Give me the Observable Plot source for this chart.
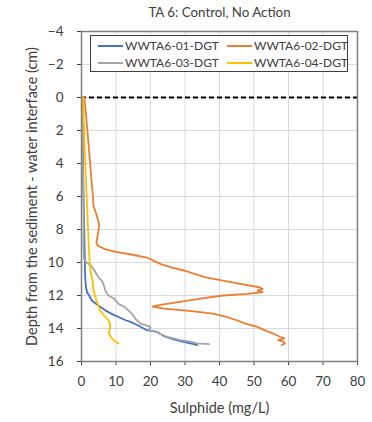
<!DOCTYPE html>
<html>
<head>
<meta charset="utf-8">
<script src="https://cdn.jsdelivr.net/npm/d3@7"></script>
<script src="https://cdn.jsdelivr.net/npm/@observablehq/plot@0.6"></script>
<style>
  html, body { margin: 0; padding: 0; background: #fff; }
  #chart { position: relative; width: 372px; height: 422px; font-family: Lato, "Open Sans", sans-serif; }
  #legend {
    position: absolute; left: 90px; top: 35px; width: 258px; height: 37px;
    border: 1px solid #404040; background: #fff; box-sizing: border-box;
    font-size: 12px; color: #404040;
    display: grid; grid-template-columns: 129px auto; grid-template-rows: 17px 17px;
    align-items: center; padding-top: 1px;
  }
  #legend .item { display: flex; align-items: center; white-space: nowrap; }
  #legend svg { margin-left: 7px; margin-right: 2px; }
</style>
</head>
<body>
<div id="chart"></div>
<script>
// Sulphide DGT profiles, TA 6 (control, no action)
const title = "TA 6: Control, No Action";
const xLabel = "Sulphide (mg/L)";
const yLabel = "Depth from the sediment - water interface (cm)";
const xTicks = [0, 10, 20, 30, 40, 50, 60, 70, 80];
const yTicks = [-4, -2, 0, 2, 4, 6, 8, 10, 12, 14, 16];

const seriesNames = ["WWTA6-01-DGT", "WWTA6-02-DGT", "WWTA6-03-DGT", "WWTA6-04-DGT"];
const seriesColors = ["#4472C4", "#ED7D31", "#A5A5A5", "#FFC000"];

// depth (cm) / sulphide (mg/L)
const depth01 = [0, 1, 2, 3, 4, 5, 6, 7, 8, 9, 10, 10.5, 11, 11.5, 11.8, 12.0, 12.3, 12.5, 12.7, 12.9, 13.1, 13.3, 13.5, 13.6, 13.8, 14.0, 14.1, 14.2, 14.3, 14.5, 14.7, 14.85, 14.95, 15.0];
const sulph01 = [0.4, 0.4, 0.5, 0.5, 0.5, 0.5, 0.6, 0.7, 0.8, 0.9, 1.0, 1.0, 1.1, 1.3, 1.6, 2.2, 3.0, 4.2, 5.5, 6.9, 8.6, 10.7, 12.8, 14.2, 16.3, 18.0, 19.0, 21.9, 22.6, 24.3, 27.5, 30.5, 32.5, 33.5];

const depth02 = [0, 1, 2, 3, 4, 5, 6, 6.6, 7.0, 7.5, 7.8, 8.2, 8.5, 8.8, 9.0, 9.2, 9.35, 9.5, 9.7, 9.9, 10.1, 10.3, 10.5, 10.7, 10.9, 11.1, 11.3, 11.5, 11.6, 11.7, 11.8, 11.9, 12.0, 12.2, 12.4, 12.6, 12.67, 12.8, 12.95, 13.1, 13.3, 13.5, 13.7, 13.9, 14.1, 14.3, 14.5, 14.6, 14.7, 14.8, 14.9, 15.0];
const sulph02 = [0.8, 1.3, 1.7, 2.1, 2.5, 2.9, 3.3, 3.5, 4.2, 4.9, 5.1, 4.8, 4.6, 4.3, 4.8, 7.0, 10.0, 14.0, 19.0, 21.0, 23.0, 26.0, 30.0, 33.0, 36.0, 41.0, 46.0, 51.5, 52.5, 51.0, 52.5, 48.0, 41.0, 34.0, 28.0, 22.0, 20.6, 24.0, 32.0, 38.0, 42.0, 45.0, 47.5, 51.0, 53.0, 55.5, 57.5, 58.8, 57.0, 58.5, 59.0, 58.0];

const depth03 = [0, 1, 2, 3, 4, 5, 6, 7, 8, 9, 9.8, 10.0, 10.2, 10.5, 10.9, 11.1, 11.4, 11.7, 12.0, 12.2, 12.5, 12.7, 12.9, 13.1, 13.4, 13.7, 13.9, 14.1, 14.2, 14.35, 14.5, 14.7, 14.8, 14.9, 14.95];
const sulph03 = [0.3, 0.3, 0.4, 0.4, 0.4, 0.5, 0.5, 0.6, 0.6, 0.6, 0.7, 1.5, 2.8, 3.8, 4.9, 5.9, 6.5, 6.9, 7.8, 9.5, 10.7, 12.5, 13.6, 14.6, 15.6, 17.1, 20.0, 19.6, 21.9, 23.0, 24.8, 28.7, 31.6, 33.5, 37.0];

const depth04 = [0, 1, 2, 3, 4, 5, 6, 7, 8, 9, 10, 10.5, 11.1, 11.7, 12.3, 12.9, 13.2, 13.5, 13.7, 14.0, 14.3, 14.6, 14.8, 14.9];
const sulph04 = [0.5, 0.6, 0.8, 0.9, 1.1, 1.3, 1.5, 1.7, 1.9, 2.1, 2.4, 2.6, 3.2, 3.5, 4.3, 5.4, 6.5, 7.8, 8.3, 8.3, 7.9, 8.8, 9.8, 10.7];

const depths = [depth01, depth02, depth03, depth04];
const sulphs = [sulph01, sulph02, sulph03, sulph04];

const rows = seriesNames.flatMap((name, i) =>
  depths[i].map((d, j) => ({series: name, depth: d, sulphide: sulphs[i][j]}))
);

const font = "Lato, 'Open Sans', sans-serif";

const plot = Plot.plot({
  width: 372,
  height: 422,
  marginLeft: 81,
  marginRight: 15,
  marginTop: 31,
  marginBottom: 61,
  style: {fontFamily: font, fontSize: "13.5px", color: "#404040", background: "#fff"},
  x: {domain: [0, 80]},
  y: {domain: [-4, 16], reverse: true},
  color: {domain: seriesNames, range: seriesColors},
  marks: [
    Plot.gridX(xTicks, {stroke: "#d9d9d9", strokeOpacity: 1, strokeWidth: 1}),
    Plot.gridY(yTicks, {stroke: "#d9d9d9", strokeOpacity: 1, strokeWidth: 1}),
    Plot.axisX(xTicks, {tickSize: 4, tickPadding: 11, label: null, fontSize: 13.5}),
    Plot.axisY(yTicks, {tickSize: 4, tickPadding: 14, label: null, fontSize: 13.5}),
    Plot.ruleY([0], {stroke: "#000", strokeWidth: 2, strokeDasharray: "5,3"}),
    Plot.line(rows, {x: "sulphide", y: "depth", z: "series", stroke: "series", strokeWidth: 1.8}),
    Plot.frame({stroke: "#7f7f7f", strokeWidth: 1.5}),
    Plot.text([title], {frameAnchor: "top", lineAnchor: "middle", dy: -19, fontSize: 13.3, fill: "#404040", text: d => d}),
    Plot.text([xLabel], {frameAnchor: "bottom", lineAnchor: "middle", dy: 47, fontSize: 14.5, fill: "#404040", text: d => d}),
    Plot.text([yLabel], {frameAnchor: "left", textAnchor: "middle", lineAnchor: "middle", dx: -49, rotate: -90, fontSize: 14.5, fill: "#404040", text: d => d})
  ]
});

const chart = document.getElementById("chart");
chart.appendChild(plot);

// legend box inside the plot area
const legend = document.createElement("div");
legend.id = "legend";
seriesNames.forEach((name, i) => {
  const item = document.createElement("div");
  item.className = "item";
  item.innerHTML = `<svg width="25" height="4"><line x1="0" x2="25" y1="2" y2="2" stroke="${seriesColors[i]}" stroke-width="2"/></svg><span>${name}</span>`;
  legend.appendChild(item);
});
chart.appendChild(legend);
</script>
</body>
</html>
